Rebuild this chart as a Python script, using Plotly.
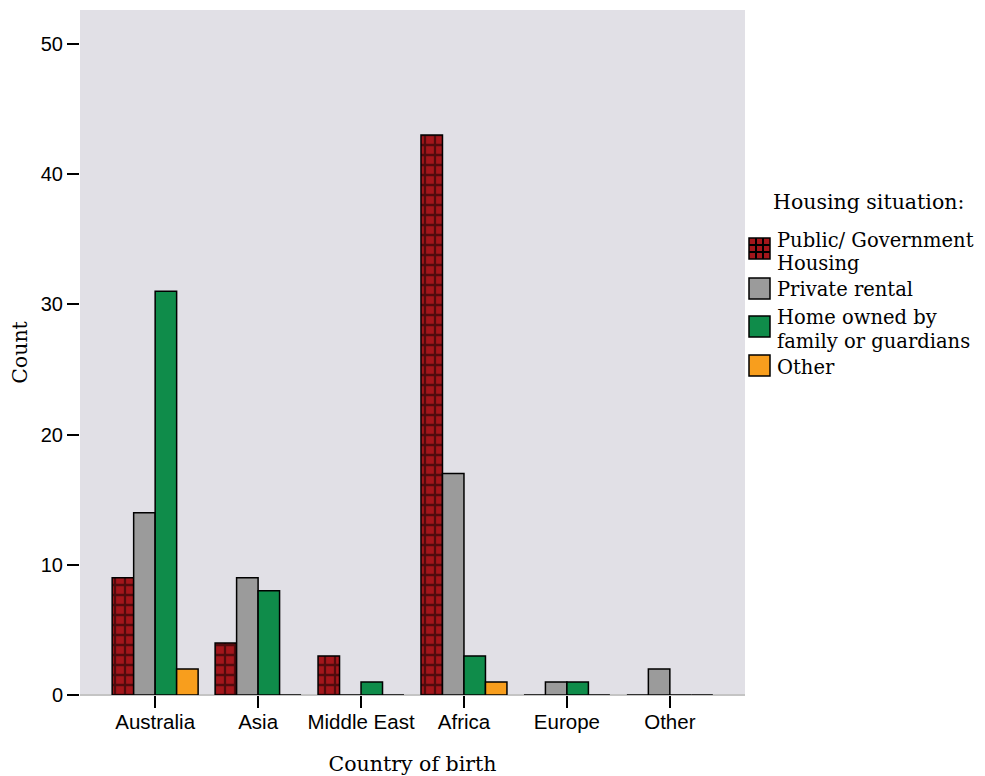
import plotly.graph_objects as go

categories = ["Australia", "Asia", "Middle East", "Africa", "Europe", "Other"]
public_housing = [9, 4, 3, 43, 0, 0]
private_rental = [14, 9, 0, 17, 1, 2]
home_owned = [31, 8, 1, 3, 1, 0]
other = [2, 0, 0, 1, 0, 0]
series_names = ["Public/ Government<br>Housing", "Private rental",
                "Home owned by<br>family or guardians", "Other"]
y_ticks = [0, 10, 20, 30, 40, 50]

x_idx = list(range(len(categories)))
colors = ["#A3161B", "#9B9B9B", "#0F8C4A", "#F89E1D"]
series = [public_housing, private_rental, home_owned, other]

# page has an 8px body margin; plot area in page pixels: x 80-745, y 10-695
PX0, PX1, PY0, PY1 = 80, 745, 10, 695


def px2x(px):
    return (px - PX0) / (PX1 - PX0)


def py2y(py):
    return (PY1 - py) / (PY1 - PY0)


fig = go.Figure()
for i, (name, vals) in enumerate(zip(series_names, series)):
    marker = dict(color=colors[i], line=dict(color="black", width=1.5))
    if i == 0:
        marker["pattern"] = dict(shape="+", fgcolor="black", bgcolor=colors[i],
                                 size=10, solidity=0.4, fillmode="overlay")
    fig.add_trace(go.Bar(x=x_idx, y=vals, name=name, marker=marker, showlegend=False))

shapes = []
annotations = []
serif = "DejaVu Serif"

# legend title
annotations.append(dict(xref="paper", yref="paper", x=px2x(771), y=py2y(202),
                        xanchor="left", yanchor="middle", showarrow=False,
                        text="Housing situation:", font=dict(family=serif, size=20.5)))
swatch_tops = [238, 278, 316, 355]
text_lines = [[(241, "Public/ Government"), (264, "Housing")],
              [(290, "Private rental")],
              [(317, "Home owned by"), (341, "family or guardians")],
              [(367, "Other")]]
for i, top in enumerate(swatch_tops):
    x0, x1, y0, y1 = 749, 770, top, top + 21
    shapes.append(dict(type="rect", xref="paper", yref="paper",
                       x0=px2x(x0), x1=px2x(x1), y0=py2y(y1), y1=py2y(y0),
                       fillcolor=colors[i], line=dict(color="black", width=1.5)))
    if i == 0:
        for k in (1, 2):
            xx = x0 + (x1 - x0) * k / 3
            yy = y0 + (y1 - y0) * k / 3
            shapes.append(dict(type="line", xref="paper", yref="paper",
                               x0=px2x(xx), x1=px2x(xx), y0=py2y(y0), y1=py2y(y1),
                               line=dict(color="black", width=2)))
            shapes.append(dict(type="line", xref="paper", yref="paper",
                               x0=px2x(x0), x1=px2x(x1), y0=py2y(yy), y1=py2y(yy),
                               line=dict(color="black", width=2)))
    for (cy, t) in text_lines[i]:
        annotations.append(dict(xref="paper", yref="paper", x=px2x(775), y=py2y(cy),
                                xanchor="left", yanchor="middle", showarrow=False,
                                text=t, font=dict(family=serif, size=19.5)))

fig.update_layout(
    barmode="group", bargap=0.165, bargroupgap=0,
    width=977, height=768,
    margin=dict(l=72, r=240, t=2, b=81, autoexpand=False),
    plot_bgcolor="#E1E0E6", paper_bgcolor="white",
    font=dict(family="Liberation Sans", size=20, color="black"),
    showlegend=False,
    shapes=shapes, annotations=annotations,
)
fig.update_xaxes(
    tickmode="array", tickvals=x_idx, ticktext=categories,
    range=[-0.73, 5.73], showgrid=False, zeroline=False,
    ticks="outside", ticklen=12, tickwidth=2, tickcolor="black",
    tickfont=dict(size=20.5), showline=False, automargin=False,
    ticklabelstandoff=-4,
    title=dict(text="Country of birth", font=dict(family=serif, size=20.5), standoff=29),
)
fig.update_yaxes(
    tickvals=y_ticks, range=[0, 52.6], showgrid=False,
    zeroline=True, zerolinecolor="#C4C4C4", zerolinewidth=2,
    ticks="outside", ticklen=12, tickwidth=2, tickcolor="black",
    automargin=False,
    title=dict(text="Count", font=dict(family=serif, size=20.5), standoff=16),
)
fig.write_html("out.html")
